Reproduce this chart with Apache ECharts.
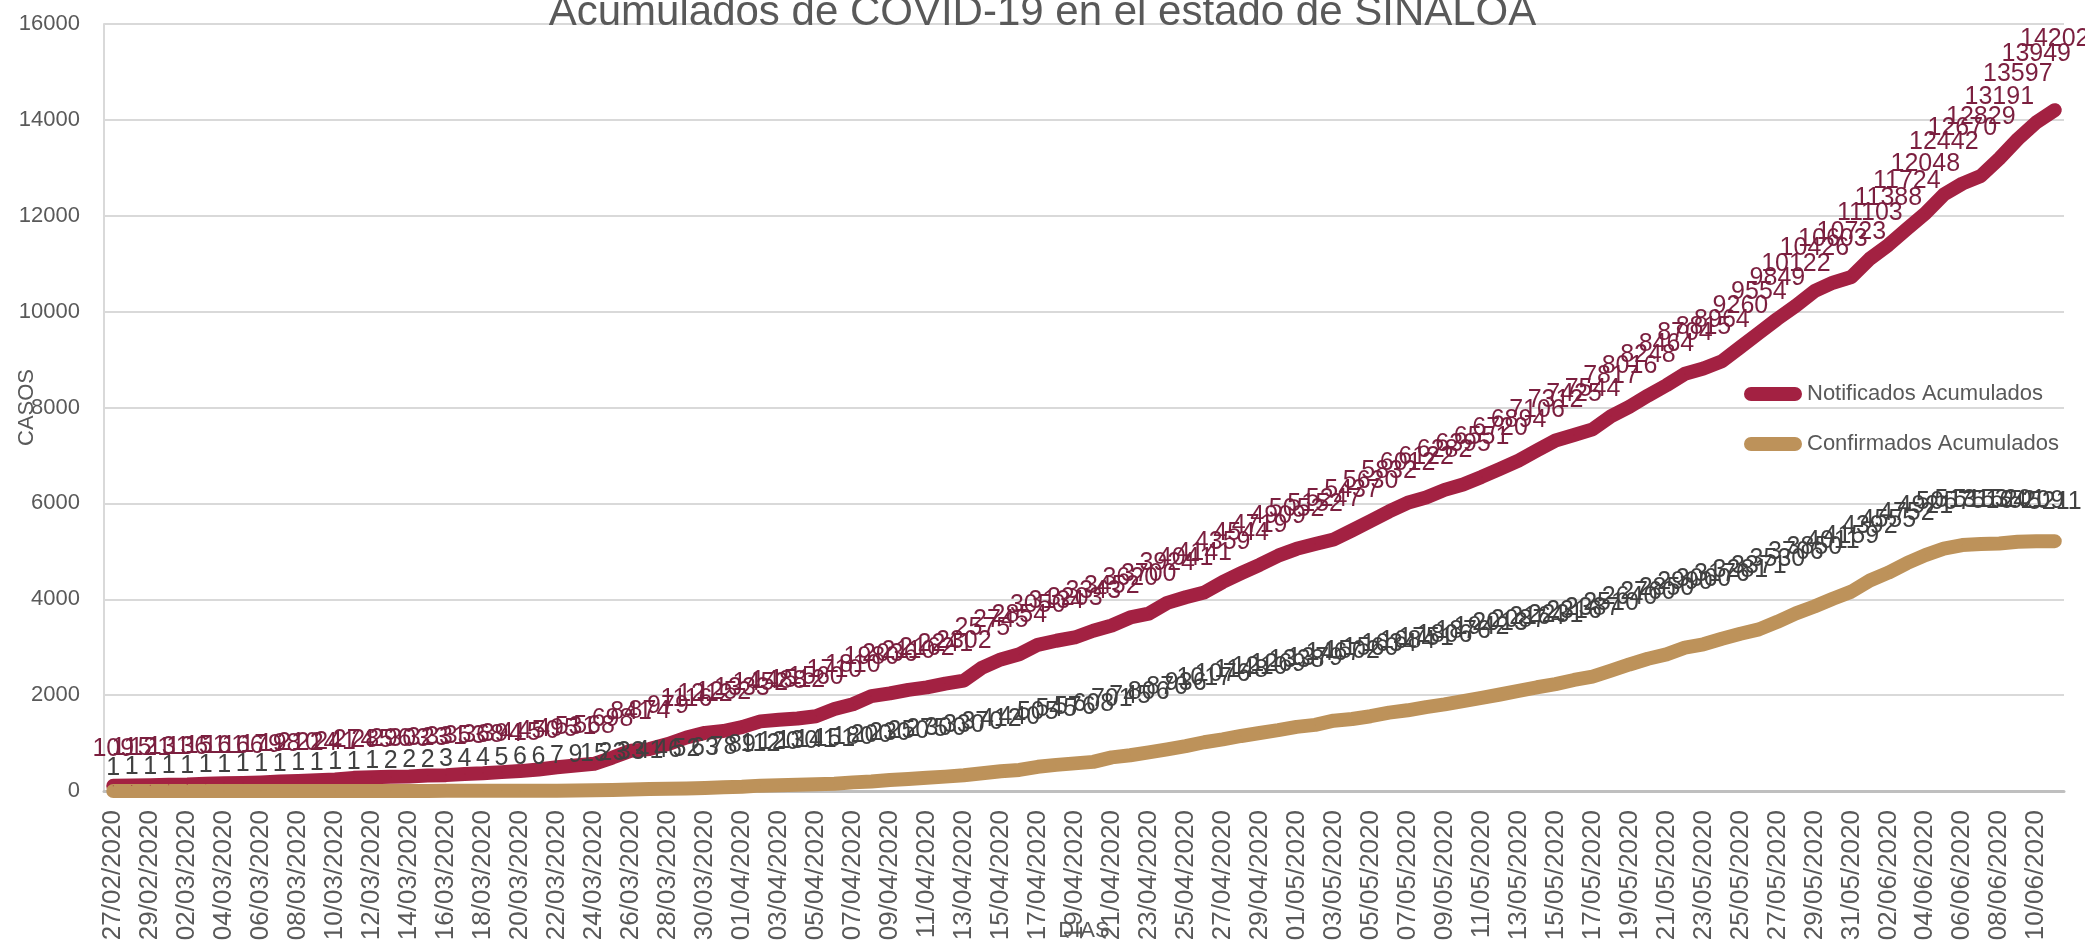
<!DOCTYPE html>
<html lang="es">
<head>
<meta charset="UTF-8">
<title>Acumulados de COVID-19 en el estado de SINALOA</title>
<script src="https://cdn.jsdelivr.net/npm/echarts@6/dist/echarts.min.js"></script>
<style>
  html, body { margin: 0; padding: 0; background: #fff; }
  #chart { width: 2085px; height: 946px; }
</style>
</head>
<body>
<div id="chart"></div>
<script>
const dias = [
  "27/02/2020", "28/02/2020", "29/02/2020",
  "01/03/2020", "02/03/2020", "03/03/2020", "04/03/2020", "05/03/2020", "06/03/2020", "07/03/2020",
  "08/03/2020", "09/03/2020", "10/03/2020", "11/03/2020", "12/03/2020", "13/03/2020", "14/03/2020",
  "15/03/2020", "16/03/2020", "17/03/2020", "18/03/2020", "19/03/2020", "20/03/2020", "21/03/2020",
  "22/03/2020", "23/03/2020", "24/03/2020", "25/03/2020", "26/03/2020", "27/03/2020", "28/03/2020",
  "29/03/2020", "30/03/2020", "31/03/2020",
  "01/04/2020", "02/04/2020", "03/04/2020", "04/04/2020", "05/04/2020", "06/04/2020", "07/04/2020",
  "08/04/2020", "09/04/2020", "10/04/2020", "11/04/2020", "12/04/2020", "13/04/2020", "14/04/2020",
  "15/04/2020", "16/04/2020", "17/04/2020", "18/04/2020", "19/04/2020", "20/04/2020", "21/04/2020",
  "22/04/2020", "23/04/2020", "24/04/2020", "25/04/2020", "26/04/2020", "27/04/2020", "28/04/2020",
  "29/04/2020", "30/04/2020",
  "01/05/2020", "02/05/2020", "03/05/2020", "04/05/2020", "05/05/2020", "06/05/2020", "07/05/2020",
  "08/05/2020", "09/05/2020", "10/05/2020", "11/05/2020", "12/05/2020", "13/05/2020", "14/05/2020",
  "15/05/2020", "16/05/2020", "17/05/2020", "18/05/2020", "19/05/2020", "20/05/2020", "21/05/2020",
  "22/05/2020", "23/05/2020", "24/05/2020", "25/05/2020", "26/05/2020", "27/05/2020", "28/05/2020",
  "29/05/2020", "30/05/2020", "31/05/2020",
  "01/06/2020", "02/06/2020", "03/06/2020", "04/06/2020", "05/06/2020", "06/06/2020", "07/06/2020",
  "08/06/2020", "09/06/2020", "10/06/2020", "11/06/2020"
];

const notificados = [
  109, 115, 121, 131, 136, 151, 161, 166, 179, 198,
  210, 224, 241, 274, 285, 296, 303, 323, 331, 353,
  368, 394, 415, 450, 495, 531, 568, 698, 841, 874,
  979, 1116, 1212, 1252, 1333, 1452, 1488, 1512, 1560, 1710,
  1810, 1980, 2036, 2110, 2162, 2241, 2302, 2575, 2745, 2854,
  3050, 3134, 3203, 3343, 3452, 3620, 3700, 3924, 4041, 4141,
  4359, 4544, 4719, 4909, 5052, 5152, 5247, 5437, 5630, 5832,
  6012, 6122, 6282, 6395, 6551, 6720, 6894, 7106, 7312, 7425,
  7544, 7817, 8016, 8248, 8464, 8704, 8815, 8964, 9260, 9554,
  9849, 10122, 10426, 10603, 10723, 11103, 11388, 11724, 12048, 12442,
  12670, 12829, 13191, 13597, 13949, 14202
];

const confirmados = [
  1, 1, 1, 1, 1, 1, 1, 1, 1, 1,
  1, 1, 1, 1, 1, 2, 2, 2, 3, 4,
  4, 5, 6, 6, 7, 9, 15, 23, 33, 41,
  46, 52, 63, 78, 89, 112, 120, 130, 141, 151,
  180, 200, 230, 250, 275, 300, 330, 370, 412, 440,
  505, 545, 576, 608, 701, 745, 806, 870, 936, 1017,
  1076, 1148, 1210, 1269, 1338, 1379, 1467, 1502, 1560, 1634,
  1684, 1751, 1806, 1876, 1942, 2013, 2087, 2164, 2231, 2316,
  2387, 2510, 2640, 2760, 2850, 2990, 3060, 3176, 3281, 3371,
  3530, 3706, 3850, 4011, 4159, 4392, 4555, 4752, 4921, 5057,
  5131, 5153, 5164, 5201, 5209, 5211
];

const fuente = '"Liberation Sans", Arial, sans-serif';
const gris = "#595959";
const pastilla = "path://M7,0 L51,0 A7,7 0 0 1 51,14 L7,14 A7,7 0 0 1 7,0 Z";

// extra lift of the data labels (px) along the days, like in the original sheet
const subidaNotif = [[0, 0], [90, 4], [98, 12], [105, 34]];
const subidaConf = [[0, -12], [25, 0], [45, 14], [60, 30], [75, 36], [90, 28], [100, 10], [105, 4]];

function subida(tabla, i) {
  for (let k = 1; k < tabla.length; k++) {
    const [i0, v0] = tabla[k - 1];
    const [i1, v1] = tabla[k];
    if (i <= i1) return v0 + (v1 - v0) * (i - i0) / (i1 - i0);
  }
  return tabla[tabla.length - 1][1];
}

const myChart = echarts.init(document.getElementById("chart"));

const option = {
  backgroundColor: "#ffffff",
  animation: false,
  textStyle: { fontFamily: fuente },
  title: {
    text: "Acumulados de COVID-19 en el estado de SINALOA",
    left: "center",
    top: -13,
    textStyle: { fontFamily: fuente, fontSize: 42, fontWeight: "normal", color: gris }
  },
  legend: {
    orient: "vertical",
    left: 1739,
    top: 378,
    itemWidth: 58,
    itemHeight: 14,
    itemGap: 28,
    textStyle: { fontFamily: fuente, fontSize: 22, color: gris },
    data: [
      { name: "Notificados Acumulados", icon: pastilla },
      { name: "Confirmados Acumulados", icon: pastilla }
    ]
  },
  grid: { left: 104, right: 21, top: 24, bottom: 155, outerBoundsMode: "none", containLabel: false },
  xAxis: {
    type: "category",
    data: dias,
    boundaryGap: true,
    name: "DIAS",
    nameLocation: "middle",
    nameGap: 129,
    nameMoveOverlap: false,
    nameTextStyle: { fontFamily: fuente, fontSize: 22, color: gris },
    axisLine: { lineStyle: { color: "#bfbfbf", width: 3 } },
    axisTick: { show: false },
    axisLabel: {
      interval: 1,
      rotate: 90,
      margin: 19,
      fontFamily: fuente,
      fontSize: 26,
      color: gris
    }
  },
  yAxis: {
    type: "value",
    min: 0,
    max: 16000,
    interval: 2000,
    name: "CASOS",
    nameLocation: "middle",
    nameGap: 66,
    nameMoveOverlap: false,
    nameTextStyle: { fontFamily: fuente, fontSize: 22, color: gris },
    axisLine: { show: true, lineStyle: { color: "#d9d9d9", width: 2 } },
    axisTick: { show: false },
    splitLine: { lineStyle: { color: "#d9d9d9", width: 2 } },
    axisLabel: {
      margin: 24,
      align: "right",
      alignMinLabel: "right",
      hideOverlap: false,
      fontFamily: fuente,
      fontSize: 22,
      color: gris,
      formatter: (v) => String(v)
    }
  },
  series: [
    {
      name: "Notificados Acumulados",
      type: "line",
      data: notificados,
      symbol: "circle",
      symbolSize: 1,
      itemStyle: { color: "#a32142" },
      lineStyle: { color: "#a32142", width: 14, cap: "round", join: "round" },
      label: {
        show: true,
        position: "top",
        distance: 24,
        fontFamily: fuente,
        fontSize: 25,
        color: "#7b1f3f"
      },
      labelLayout: (p) => ({ dy: -subida(subidaNotif, p.dataIndex) })
    },
    {
      name: "Confirmados Acumulados",
      type: "line",
      data: confirmados,
      symbol: "circle",
      symbolSize: 1,
      itemStyle: { color: "#bd925a" },
      lineStyle: { color: "#bd925a", width: 14, cap: "round", join: "round" },
      label: {
        show: true,
        position: "top",
        distance: 22,
        fontFamily: fuente,
        fontSize: 25,
        color: "#404040"
      },
      labelLayout: (p) => ({ dy: -subida(subidaConf, p.dataIndex) })
    }
  ]
};

myChart.setOption(option);
</script>
</body>
</html>
